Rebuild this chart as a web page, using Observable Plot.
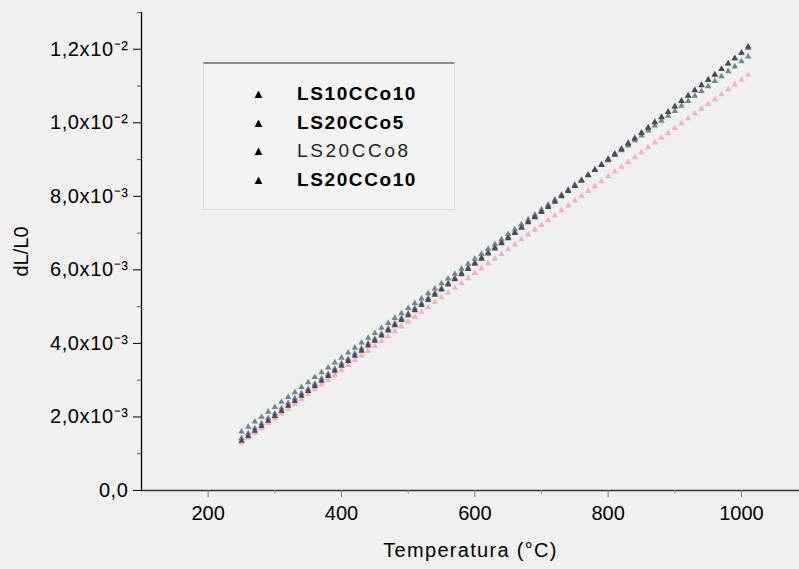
<!DOCTYPE html>
<html>
<head>
<meta charset="utf-8">
<script src="https://cdn.jsdelivr.net/npm/d3@7"></script>
<script src="https://cdn.jsdelivr.net/npm/@observablehq/plot@0.6"></script>
<style>
  html, body { margin: 0; padding: 0; background: #f0f0f0; }
  #wrap { position: relative; width: 799px; height: 569px; font-family: "Liberation Sans", Arial, sans-serif; }
  #legend { position: absolute; left: 203px; top: 62px; width: 252px; height: 148px;
            background: #f3f3f3; border: 1px solid #dcdcdc; border-top: 2px solid #8a8a8a; box-sizing: border-box; }
  .item { position: absolute; left: 0; height: 20px; line-height: 20px; color: #000; }
  .sym { position: absolute; left: 48px; font-size: 13px; }
  .lab { position: absolute; left: 93px; font-size: 19px; font-weight: bold; letter-spacing: 1.6px; white-space: nowrap; }
  .lab.thin { font-weight: normal; letter-spacing: 2.6px; color: #222; }
  svg g[aria-label="x-axis label"] text { letter-spacing: 1.3px; }
  svg g[aria-label="y-axis tick label"] text { letter-spacing: 0.6px; }
</style>
</head>
<body>
<div id="wrap"></div>
<script>
// Temperature (°C)
const temps = [250,260,270,280,290,300,310,320,330,340,350,360,370,380,390,400,410,420,430,440,
  450,460,470,480,490,500,510,520,530,540,550,560,570,580,590,600,610,620,630,640,
  650,660,670,680,690,700,710,720,730,740,750,760,770,780,790,800,810,820,830,840,
  850,860,870,880,890,900,910,920,930,940,950,960,970,980,990,1000,1010];

// dL/L0 values, in units of 1e-3
const LS10CCo10 = [1.35,1.48,1.62,1.75,1.89,2.02,2.16,2.30,2.43,2.57,2.70,2.84,2.98,3.11,3.25,3.39,3.52,3.66,3.80,3.94,
  4.07,4.21,4.35,4.49,4.63,4.76,4.90,5.04,5.18,5.32,5.46,5.60,5.74,5.88,6.02,6.16,6.30,6.44,6.58,6.72,
  6.86,7.00,7.14,7.29,7.43,7.57,7.71,7.85,8.00,8.14,8.28,8.42,8.57,8.71,8.85,9.00,9.14,9.28,9.43,9.57,
  9.72,9.86,10.01,10.15,10.29,10.44,10.59,10.73,10.88,11.02,11.17,11.31,11.46,11.61,11.75,11.90,12.07];
const LS20CCo5 = [1.30,1.43,1.56,1.69,1.83,1.96,2.09,2.22,2.35,2.48,2.62,2.75,2.88,3.01,3.14,3.27,3.41,3.54,3.67,3.80,
  3.93,4.06,4.19,4.33,4.46,4.59,4.72,4.85,4.98,5.12,5.25,5.38,5.51,5.64,5.77,5.91,6.04,6.17,6.30,6.43,
  6.56,6.69,6.83,6.96,7.09,7.22,7.35,7.48,7.62,7.75,7.88,8.01,8.14,8.27,8.41,8.54,8.67,8.80,8.93,9.06,
  9.19,9.33,9.46,9.59,9.72,9.85,9.98,10.12,10.25,10.38,10.51,10.64,10.77,10.91,11.04,11.17,11.30];
const LS20CCo8 = [1.60,1.73,1.87,2.00,2.14,2.27,2.41,2.54,2.67,2.81,2.94,3.08,3.21,3.34,3.48,3.61,3.75,3.88,4.02,4.15,
  4.28,4.42,4.55,4.69,4.82,4.96,5.09,5.22,5.36,5.49,5.63,5.76,5.89,6.03,6.16,6.30,6.43,6.57,6.70,6.83,
  6.97,7.10,7.24,7.37,7.50,7.64,7.77,7.91,8.04,8.18,8.31,8.44,8.58,8.71,8.85,8.98,9.12,9.25,9.38,9.52,
  9.65,9.79,9.92,10.05,10.19,10.32,10.46,10.59,10.73,10.86,10.99,11.13,11.26,11.40,11.53,11.67,11.80];
const LS20CCo10 = [1.42,1.55,1.69,1.82,1.96,2.09,2.23,2.37,2.50,2.64,2.76,2.90,3.04,3.17,3.31,3.45,3.58,3.72,3.86,4.00,
  4.12,4.26,4.40,4.54,4.68,4.81,4.95,5.09,5.23,5.37,5.50,5.64,5.78,5.92,6.06,6.20,6.34,6.48,6.62,6.76,
  6.89,7.03,7.17,7.32,7.46,7.60,7.74,7.88,8.03,8.17,8.30,8.44,8.59,8.73,8.87,9.02,9.16,9.30,9.45,9.59,
  9.73,9.87,10.02,10.16,10.30,10.45,10.60,10.74,10.89,11.03,11.17,11.31,11.46,11.61,11.75,11.90,12.03];

const seriesNames = ["LS10CCo10", "LS20CCo5", "LS20CCo8", "LS20CCo10"];
const seriesValues = [LS10CCo10, LS20CCo5, LS20CCo8, LS20CCo10];
const seriesColors = ["#4a4a55", "#ecb4c0", "#6c8c7c", "#7c76aa"];
const drawOrder = [1, 2, 3, 0];

const yTicks = [0, 0.002, 0.004, 0.006, 0.008, 0.010, 0.012];
const yTickLabels = ["0,0", "2,0x10⁻³", "4,0x10⁻³", "6,0x10⁻³", "8,0x10⁻³", "1,0x10⁻²", "1,2x10⁻²"];
const yMinor = [0.001, 0.003, 0.005, 0.007, 0.009, 0.011, 0.013];
const xTicks = [200, 400, 600, 800, 1000];
const xMinor = [300, 500, 700, 900];

const rows = [];
drawOrder.forEach(i => {
  temps.forEach((t, k) => rows.push({T: t, v: seriesValues[i][k] * 1e-3, s: seriesNames[i]}));
});

const chart = Plot.plot({
  width: 799,
  height: 569,
  marginLeft: 141,
  marginRight: 0,
  marginTop: 12,
  marginBottom: 79,
  style: {background: "#f0f0f0", fontSize: "20px", fontFamily: "Liberation Sans, Arial, sans-serif", color: "#000"},
  x: {domain: [100, 1087]},
  y: {domain: [0, 0.013]},
  color: {domain: seriesNames, range: seriesColors},
  marks: [
    Plot.dot(rows, {x: "T", y: "v", fill: "s", symbol: "triangle", r: 2.4, stroke: "none"}),
    Plot.ruleX([100], {stroke: "#000", strokeWidth: 1.3}),
    Plot.ruleY([0], {stroke: "#333", strokeWidth: 1.3}),
    Plot.axisY(yTicks, {tickSize: 8, tickPadding: 5, tickFormat: d => yTickLabels[yTicks.indexOf(d)],
      label: "dL/L0", labelAnchor: "center", labelOffset: 128, labelArrow: "none", stroke: "#000"}),
    Plot.axisY(yMinor, {tickSize: 4, tickFormat: () => "", label: null, stroke: "#555"}),
    Plot.axisX(xTicks, {tickSize: 7, tickPadding: 8, tickFormat: d => String(d),
      label: "Temperatura (°C)", labelAnchor: "center", labelOffset: 66, labelArrow: "none", stroke: "#777"}),
    Plot.axisX(xMinor, {tickSize: 4, tickFormat: () => "", label: null, stroke: "#999"})
  ]
});

const wrap = document.getElementById("wrap");
wrap.appendChild(chart);

const legend = document.createElement("div");
legend.id = "legend";
const rowTops = [20, 48.5, 77, 105.5];
seriesNames.forEach((name, i) => {
  const it = document.createElement("div");
  it.className = "item";
  it.style.top = rowTops[i] + "px";
  it.style.width = "100%";
  const sym = document.createElement("span");
  sym.className = "sym";
  sym.textContent = "▲";
  const lab = document.createElement("span");
  lab.className = "lab" + (i === 2 ? " thin" : "");
  lab.textContent = name;
  it.appendChild(sym);
  it.appendChild(lab);
  legend.appendChild(it);
});
wrap.appendChild(legend);
</script>
</body>
</html>
